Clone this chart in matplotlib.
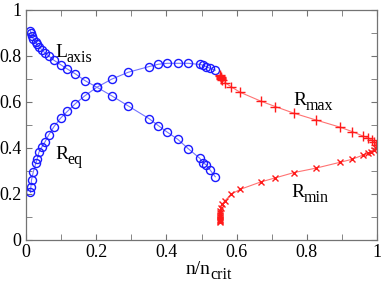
import matplotlib
matplotlib.use("Agg")
import matplotlib.pyplot as plt
from matplotlib.ticker import MultipleLocator

plt.rcParams['font.family'] = ['Liberation Serif', 'DejaVu Serif']

# Blue series (shared x)
x_blue = [0.013, 0.014, 0.016, 0.021, 0.028, 0.032, 0.037, 0.046, 0.055, 0.065,
          0.080, 0.099, 0.118, 0.141, 0.168, 0.202, 0.244, 0.291, 0.351, 0.377,
          0.403, 0.432, 0.462, 0.495, 0.504, 0.514, 0.525, 0.539]
r_eq = [0.207, 0.229, 0.261, 0.296, 0.333, 0.352, 0.381, 0.406, 0.428, 0.457,
        0.493, 0.530, 0.559, 0.593, 0.627, 0.664, 0.699, 0.729, 0.754, 0.764,
        0.768, 0.768, 0.768, 0.763, 0.760, 0.753, 0.746, 0.738]
l_axis = [0.910, 0.900, 0.888, 0.875, 0.860, 0.850, 0.840, 0.826, 0.812, 0.800,
          0.781, 0.762, 0.743, 0.722, 0.693, 0.664, 0.627, 0.583, 0.527, 0.497,
          0.468, 0.438, 0.397, 0.355, 0.336, 0.326, 0.303, 0.275]

# Red series
x_max = [0.552, 0.553, 0.554, 0.555, 0.556, 0.559, 0.567, 0.584, 0.610, 0.668,
         0.710, 0.763, 0.825, 0.895, 0.929, 0.961, 0.974, 0.984, 0.991, 0.997]
r_max = [0.716, 0.712, 0.708, 0.703, 0.700, 0.694, 0.684, 0.666, 0.642, 0.604,
         0.580, 0.551, 0.522, 0.490, 0.471, 0.451, 0.443, 0.435, 0.426, 0.413]
x_min = [0.996, 0.991, 0.983, 0.974, 0.961, 0.929, 0.895, 0.825, 0.763, 0.710,
         0.668, 0.610, 0.584, 0.567, 0.559, 0.554, 0.553, 0.552, 0.553, 0.552,
         0.553, 0.552, 0.553, 0.552]
r_min = [0.401, 0.391, 0.384, 0.377, 0.370, 0.351, 0.338, 0.312, 0.293, 0.270,
         0.252, 0.220, 0.199, 0.171, 0.157, 0.140, 0.128, 0.118, 0.108, 0.100,
         0.093, 0.087, 0.081, 0.076]

fig = plt.figure(figsize=(3.81, 2.84), dpi=100)
ax = fig.add_axes([0.068, 0.155, 0.922, 0.81])

blue = (0.1, 0.1, 1.0)
ax.plot(x_blue, r_eq, '-', color=(0.45, 0.45, 1.0), lw=0.8, marker='o', ms=5.8,
        mfc='none', mec=blue, mew=1.0)
ax.plot(x_blue, l_axis, '-', color=(0.45, 0.45, 1.0), lw=0.8, marker='o', ms=5.8,
        mfc='none', mec=blue, mew=1.0)
red = (1.0, 0.1, 0.1)
ax.plot(x_max, r_max, '-', color=(1.0, 0.45, 0.45), lw=0.8, marker='+', ms=6.5,
        mec=red, mew=1.0)
ax.plot(x_min, r_min, '-', color=(1.0, 0.45, 0.45), lw=0.8, marker='x', ms=4.8,
        mec=red, mew=1.0)

ax.set_xlim(0, 1)
ax.set_ylim(0, 1)
ax.xaxis.set_major_locator(MultipleLocator(0.2))
ax.xaxis.set_minor_locator(MultipleLocator(0.1))
ax.yaxis.set_major_locator(MultipleLocator(0.2))
ax.yaxis.set_minor_locator(MultipleLocator(0.1))
ax.xaxis.set_major_formatter(plt.FuncFormatter(lambda v, p: f'{v:g}'))
ax.yaxis.set_major_formatter(plt.FuncFormatter(lambda v, p: f'{v:g}'))
ax.tick_params(which='both', direction='in', top=True, right=True,
               color='0.45', labelsize=13, pad=3, length=4)
for s in ax.spines.values():
    s.set_color('0.45')
    s.set_linewidth(0.9)

fs_main = 14
fs_sub = 11.5


def label(x, y, main, sub, transform=None):
    tr = transform if transform is not None else ax.transData
    t = ax.text(x, y, main, fontsize=fs_main, ha='left', va='baseline', transform=tr)
    ax.annotate(sub, xy=(x, y), xycoords=tr, xytext=(fs_main * 0.62 if main == 'R' else fs_main * 0.58, -3.5),
                textcoords='offset points', fontsize=fs_sub, ha='left', va='baseline',
                annotation_clip=False)
    return t


label(0.083, 0.795, 'L', 'axis')
label(0.083, 0.352, 'R', 'eq')
label(0.762, 0.587, 'R', 'max')
label(0.755, 0.185, 'R', 'min')

# x label
xl = 0.455
ax.text(xl, -0.147, 'n/n', fontsize=fs_main, ha='left', va='baseline',
        transform=ax.transAxes, clip_on=False)
ax.annotate('crit', xy=(xl, -0.147), xycoords=ax.transAxes, xytext=(17.8, -3.5),
            textcoords='offset points', fontsize=fs_sub, ha='left', va='baseline',
            annotation_clip=False)

fig.savefig('out.png', dpi=100)
